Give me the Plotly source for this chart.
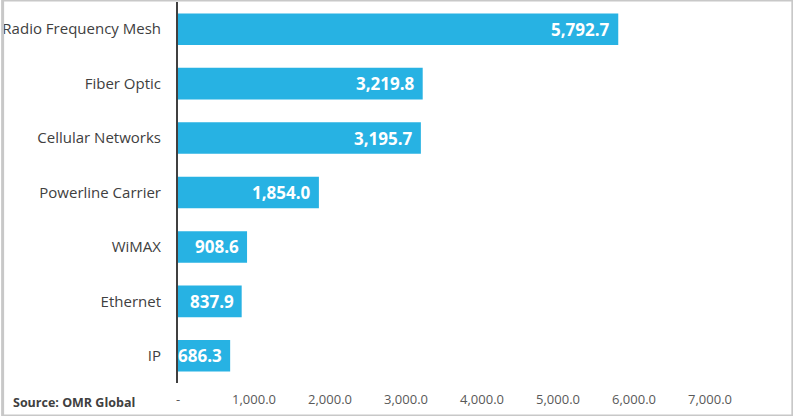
import plotly.graph_objects as go

# categories top to bottom as in the chart
categories = ["Radio Frequency Mesh", "Fiber Optic", "Cellular Networks",
              "Powerline Carrier", "WiMAX", "Ethernet", "IP"]
values = [5792.7, 3219.8, 3195.7, 1854.0, 908.6, 837.9, 686.3]
tick_vals = [0, 1000, 2000, 3000, 4000, 5000, 6000, 7000]
tick_text = ["-", "1,000.0", "2,000.0", "3,000.0", "4,000.0",
             "5,000.0", "6,000.0", "7,000.0"]

bar_color = "#27B2E3"
font = "Open Sans"

fig = go.Figure()
fig.add_trace(go.Bar(
    x=values, y=categories, orientation="h",
    marker=dict(color=bar_color, line=dict(width=0)),
    hoverinfo="x+y",
))

# value labels inside the bar ends
for cat, val in zip(categories, values):
    fig.add_annotation(x=val, y=cat, xref="x", yref="y",
                       text=f"<b>{val:,.1f}</b>", showarrow=False,
                       xanchor="right", xshift=-6,
                       font=dict(family=font, size=17, color="white"))

pw, ph = 793 - 176 - 45, 416 - 2 - 33

# source note
fig.add_annotation(x=-168 / pw, y=-19 / ph, xref="paper", yref="paper",
                   text="<b>Source: OMR Global</b>", showarrow=False,
                   xanchor="left", yanchor="middle",
                   font=dict(family=font, size=12.5, color="#404040"))

# thin grey frame around the whole picture
fig.add_shape(type="rect", xref="paper", yref="paper",
              x0=-176 / pw, x1=1 + 45 / pw, y0=-33 / ph, y1=1 + 2 / ph,
              line=dict(color="#C8C8C8", width=3), layer="above")

fig.update_layout(
    width=793, height=416,
    margin=dict(l=176, r=45, t=2, b=33),
    paper_bgcolor="white", plot_bgcolor="white",
    bargap=0.42,
    showlegend=False,
    font=dict(family=font, color="#404040"),
    xaxis=dict(range=[0, 7500], tickvals=tick_vals, ticktext=tick_text,
               showgrid=False, zeroline=False, showline=False,
               tickfont=dict(family=font, size=13, color="#595959"),
               ticks="", ticklabelstandoff=7),
    yaxis=dict(autorange="reversed", showgrid=False, zeroline=False,
               showline=True, linecolor="#404040", linewidth=2,
               ticks="", ticklabelstandoff=12,
               tickfont=dict(family=font, size=15, color="#404040")),
)

# drop the page's default body margin so the figure sits at the window corner
fig.write_html("out.html", config={"displayModeBar": False},
               post_script="document.body.style.margin='0';")
